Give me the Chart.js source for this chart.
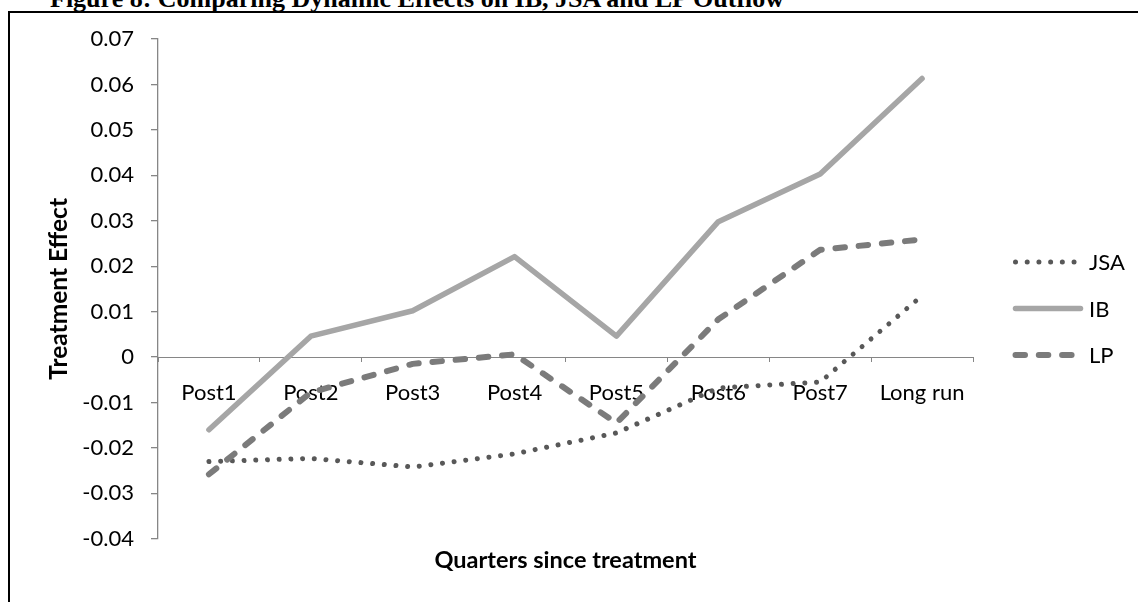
<!DOCTYPE html>
<html>
<head>
<meta charset="utf-8">
<title>Dynamic Effects on IB, JSA and LP Outflow</title>
<script src="https://cdn.jsdelivr.net/npm/chart.js@4.4.1/dist/chart.umd.min.js"></script>
<style>
  html, body { margin: 0; padding: 0; background: #fff; }
  #wrap { position: relative; width: 1138px; height: 602px; overflow: hidden; }
  #fig {
    position: absolute; left: 50px; top: -14px;
    font: bold 26px/26px "Liberation Serif", "Times New Roman", serif;
    white-space: nowrap; color: #000;
  }
  #frame {
    position: absolute; left: 8px; top: 11px; right: -20px; bottom: -20px;
    border-left: 2px solid #000; border-top: 2px solid #000;
  }
  canvas { position: absolute; left: 0; top: 0; }
</style>
</head>
<body>
<div id="wrap">
  <div id="fig">Figure 8: Comparing Dynamic Effects on IB, JSA and LP Outflow</div>
  <div id="frame"></div>
  <canvas id="chart" width="1138" height="602"></canvas>
</div>
<script>
// Quarters after treatment
const categories = ['Post1', 'Post2', 'Post3', 'Post4', 'Post5', 'Post6', 'Post7', 'Long run'];

// Estimated treatment effects per outflow type
const jsaValues = [-0.0230, -0.0223, -0.0242, -0.0213, -0.0167, -0.0068, -0.0055, 0.0135];
const ibValues  = [-0.0160, 0.0046, 0.0102, 0.0221, 0.0046, 0.0298, 0.0403, 0.0613];
const lpValues  = [-0.0258, -0.0078, -0.0015, 0.0006, -0.0145, 0.0083, 0.0236, 0.0259];

// Value axis ticks
const yTicks = [-0.04, -0.03, -0.02, -0.01, 0, 0.01, 0.02, 0.03, 0.04, 0.05, 0.06, 0.07];

const FONT = 'Lato, "Open Sans", sans-serif';
const AXIS_GREY = '#868686';

// Right-hand legend: a line sample in each series' own stroke, then its name
const sideLegend = {
  id: 'sideLegend',
  afterDraw(chart, args, opts) {
    const ctx = chart.ctx;
    chart.data.datasets.forEach((ds, i) => {
      const y = opts.top + i * opts.spacing;
      ctx.save();
      ctx.strokeStyle = ds.borderColor;
      ctx.lineWidth = ds.borderWidth;
      ctx.lineCap = ds.borderCapStyle || 'butt';
      ctx.setLineDash(ds.borderDash || []);
      ctx.beginPath();
      ctx.moveTo(opts.x, y);
      ctx.lineTo(opts.x + opts.length, y);
      ctx.stroke();
      ctx.restore();
      ctx.save();
      ctx.fillStyle = '#000';
      ctx.font = opts.font;
      ctx.textAlign = 'left';
      ctx.textBaseline = 'middle';
      ctx.fillText(ds.label, opts.textX, y + 1);
      ctx.restore();
    });
  }
};

new Chart(document.getElementById('chart'), {
  type: 'line',
  data: {
    labels: categories,
    datasets: [
      {
        label: 'JSA', data: jsaValues,
        borderColor: '#585858', borderWidth: 5,
        borderDash: [0.01, 11.7], borderCapStyle: 'round', borderJoinStyle: 'round',
        pointRadius: 0, tension: 0, order: 3
      },
      {
        label: 'IB', data: ibValues,
        borderColor: '#a6a6a6', borderWidth: 5.5,
        borderCapStyle: 'round', borderJoinStyle: 'round',
        pointRadius: 0, tension: 0, order: 2
      },
      {
        label: 'LP', data: lpValues,
        borderColor: '#7b7b7b', borderWidth: 6,
        borderDash: [9.5, 13.8], borderCapStyle: 'round', borderJoinStyle: 'round',
        pointRadius: 0, tension: 0, order: 1
      }
    ]
  },
  options: {
    responsive: false,
    animation: false,
    devicePixelRatio: 1,
    layout: { padding: { left: 0, top: 39, right: 165, bottom: 27 } },
    scales: {
      x: {
        type: 'category',
        position: { y: 0 },
        offset: true,
        grid: {
          offset: true, drawOnChartArea: false, drawTicks: true,
          tickLength: 4, color: AXIS_GREY, lineWidth: 1
        },
        border: { display: true, color: AXIS_GREY, width: 1, dash: [1, 2] },
        ticks: {
          color: '#000', font: { family: FONT, size: 22 },
          padding: 19, maxRotation: 0, autoSkip: false
        }
      },
      y: {
        min: -0.04, max: 0.07,
        afterFit(scale) { scale.width = 158; },
        afterBuildTicks(scale) { scale.ticks = yTicks.map(v => ({ value: v })); },
        grid: { drawOnChartArea: false, drawTicks: true, tickLength: 7, color: AXIS_GREY, lineWidth: 1.3 },
        border: { display: true, color: AXIS_GREY, width: 1.3 },
        ticks: {
          color: '#000', font: { family: FONT, size: 22 }, padding: 17,
          callback: v => String(Number(v.toFixed(2)))
        },
        title: {
          display: true, text: 'Treatment Effect', color: '#000',
          font: { family: FONT, size: 24.5, weight: 'bold' },
          padding: { top: 44, bottom: 0 }
        }
      }
    },
    plugins: {
      legend: { display: false },
      tooltip: { enabled: false },
      title: {
        display: true, position: 'bottom', fullSize: false,
        text: 'Quarters since treatment', color: '#000',
        font: { family: FONT, size: 23.5, weight: 'bold' },
        padding: { top: 8, bottom: 0 }
      },
      sideLegend: {
        x: 1015.5, length: 65, textX: 1089, top: 262, spacing: 46.5,
        font: '22px ' + FONT
      }
    }
  },
  plugins: [sideLegend]
});
</script>
</body>
</html>
